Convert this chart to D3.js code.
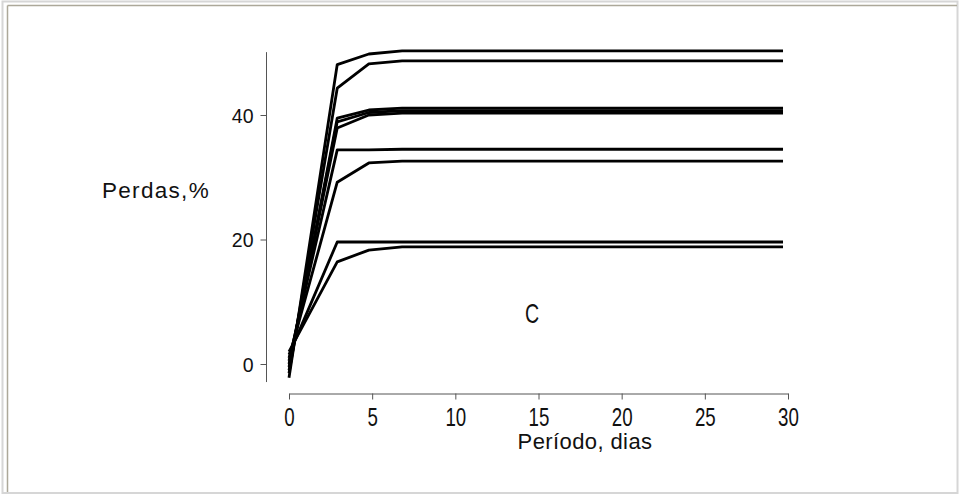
<!DOCTYPE html>
<html>
<head>
<meta charset="utf-8">
<script src="https://cdn.jsdelivr.net/npm/d3@7"></script>
<style>
  body { margin: 0; background: #fff; }
  text { font-family: "Liberation Sans", Arial, sans-serif; fill: #111; }
</style>
</head>
<body>
<div class="canvas"></div>
<script>
// data
const days = [0, 2.9, 4.8, 6.8, 29.7];
const series_values = [
  [-2.2, 48.1, 49.8, 50.3, 50.3],
  [-1.5, 44.3, 48.2, 48.7, 48.7],
  [-1.0, 39.5, 40.8, 41.1, 41.1],
  [-0.5, 38.9, 40.4, 40.7, 40.7],
  [0.0, 37.9, 40.0, 40.3, 40.3],
  [0.5, 34.4, 34.4, 34.5, 34.5],
  [1.0, 29.2, 32.3, 32.6, 32.6],
  [1.5, 19.6, 19.6, 19.6, 19.6],
  [2.0, 16.4, 18.3, 18.8, 18.8]
];
const x_ticks = [0, 5, 10, 15, 20, 25, 30];
const y_ticks = [0, 20, 40];
const x_title = "Período, dias";
const y_title = "Perdas,%";
const panel_label = "C";

const width = 960, height = 495;
const line_color = "#000";
const axis_color = "#555";

const svg = d3.select(".canvas").append("svg")
  .attr("width", width)
  .attr("height", height);

// window frame
svg.append("rect").attr("x", 2.5).attr("y", 1.5).attr("width", 955).attr("height", 491.5)
  .attr("fill", "none").attr("stroke", "#d6d6d6").attr("stroke-width", 2);
svg.append("line").attr("x1", 7.5).attr("x2", 957).attr("y1", 5.5).attr("y2", 5.5)
  .attr("stroke", "#aca899").attr("stroke-width", 1.5);
svg.append("line").attr("x1", 7.5).attr("x2", 7.5).attr("y1", 5.5).attr("y2", 492)
  .attr("stroke", "#aca899").attr("stroke-width", 1.5);

const xScale = d3.scaleLinear().domain([0, 30]).range([289, 788]);
const yScale = d3.scaleLinear().domain([0, 40]).range([364, 115]);

// x axis
const xAxis = d3.axisBottom(xScale).tickValues(x_ticks).tickSize(6).tickSizeOuter(0).tickFormat(d3.format("d"));
const gx = svg.append("g").attr("transform", "translate(0,393.5)").call(xAxis);
gx.select(".domain").attr("stroke", axis_color);
gx.selectAll(".tick line").attr("stroke", axis_color);
gx.selectAll(".tick text")
  .attr("y", 0).attr("dy", 0)
  .attr("transform", "translate(0,32) scale(0.72,1)")
  .attr("font-size", 26).attr("fill", "#222");

// y axis
const yAxis = d3.axisLeft(yScale).tickValues(y_ticks).tickSize(6).tickSizeOuter(0).tickPadding(7);
const gy = svg.append("g").attr("transform", "translate(266.5,0)").call(yAxis);
gy.select(".domain").attr("d", "M0," + yScale(-2.9) + "V" + yScale(50.1)).attr("stroke", axis_color);
gy.selectAll(".tick line").attr("stroke", axis_color);
gy.selectAll(".tick text").attr("font-size", 19.5).attr("fill", "#222").attr("dy", "0.36em");

// curves
const lineGen = d3.line()
  .x((d, i) => xScale(days[i]))
  .y(d => yScale(d));

svg.append("g")
  .selectAll("path")
  .data(series_values)
  .enter()
  .append("path")
  .attr("d", lineGen)
  .attr("fill", "none")
  .attr("stroke", line_color)
  .attr("stroke-width", 2.8)
  .attr("stroke-linejoin", "round");

// titles
svg.append("text").attr("x", 585).attr("y", 449).attr("text-anchor", "middle")
  .attr("font-size", 22).style("letter-spacing", "0.4px").text(x_title);
svg.append("text").attr("x", 102).attr("y", 198)
  .attr("font-size", 22.5).style("letter-spacing", "1.3px").text(y_title);
svg.append("text").attr("transform", "translate(532,323) scale(0.7,1)").attr("text-anchor", "middle")
  .attr("font-size", 28).text(panel_label);
</script>
</body>
</html>
